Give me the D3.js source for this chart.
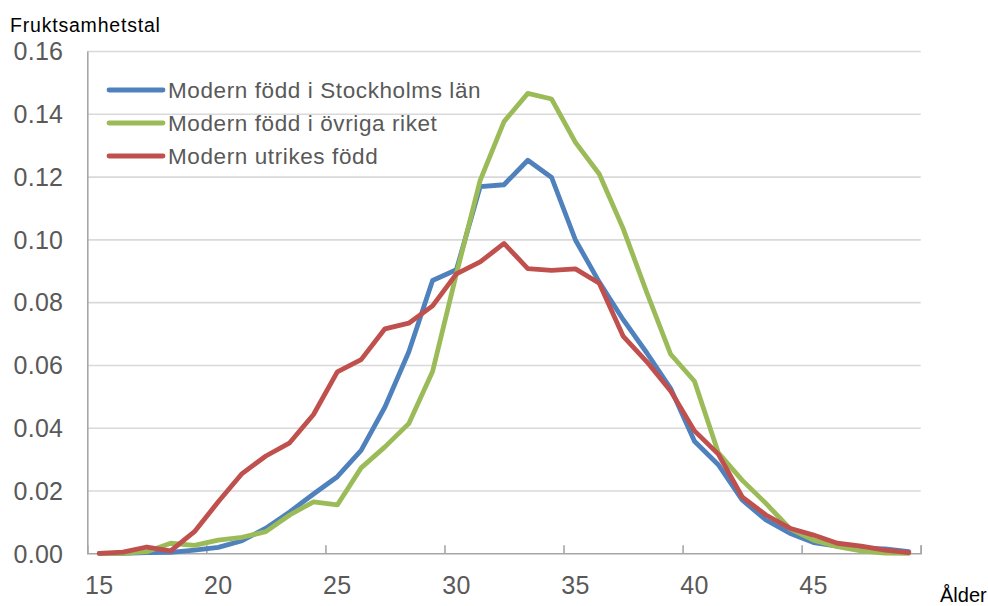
<!DOCTYPE html>
<html>
<head>
<meta charset="utf-8">
<script src="https://cdn.jsdelivr.net/npm/d3@7"></script>
<style>
  html, body { margin: 0; padding: 0; background: #fff; }
  svg { display: block; font-family: "Liberation Sans", Arial, sans-serif; }
</style>
</head>
<body>
<svg id="chart" width="988" height="606"></svg>
<script>
const ages = d3.range(15, 50);
const seriesNames = ["Modern född i Stockholms län", "Modern född i övriga riket", "Modern utrikes född"];
const seriesColors = ["#4f81bd", "#9bbb59", "#c0504d"];
const stockholm = [0, 0, 0.0002, 0.0003, 0.001, 0.0019, 0.004, 0.008, 0.0132, 0.0189,
  0.0244, 0.0328, 0.0466, 0.0641, 0.0869, 0.0903, 0.1168, 0.1174, 0.1252, 0.1197,
  0.0998, 0.0864, 0.0745, 0.0638, 0.0525, 0.0357, 0.0282, 0.017, 0.0106, 0.0064,
  0.0034, 0.0023, 0.0016, 0.0014, 0.0005];
const ovriga = [0, 0, 0.0005, 0.0032, 0.0025, 0.0042, 0.0051, 0.0069, 0.0122, 0.0164,
  0.0154, 0.0272, 0.0339, 0.0413, 0.0579, 0.089, 0.1188, 0.1375, 0.1465, 0.1447,
  0.1309, 0.1208, 0.1035, 0.083, 0.0634, 0.0548, 0.032, 0.0233, 0.0159, 0.0079,
  0.0042, 0.0021, 0.0008, 0.0001, 0];
const utrikes = [0, 0.0004, 0.002, 0.0008, 0.0069, 0.0164, 0.0254, 0.031, 0.0352, 0.0442,
  0.0578, 0.0617, 0.0715, 0.0733, 0.0788, 0.089, 0.0928, 0.0987, 0.0907, 0.0901,
  0.0906, 0.086, 0.0692, 0.061, 0.0517, 0.039, 0.0316, 0.018, 0.0122, 0.008,
  0.0058, 0.0032, 0.0023, 0.001, 0.0002];
const xTickLabels = [15, 20, 25, 30, 35, 40, 45];
const yTicks = [0, 0.02, 0.04, 0.06, 0.08, 0.10, 0.12, 0.14, 0.16];
const yTitle = "Fruktsamhetstal";
const xTitle = "Ålder";

const seriesValues = [stockholm, ovriga, utrikes];

const mLeft = 87.3, mRight = 920.7, mTop = 51, mBottom = 553.3;
const svg = d3.select("#chart");

const x = d3.scaleBand().domain(ages).range([mLeft, mRight]).paddingInner(0).paddingOuter(0);
const xb = d3.scaleLinear().domain([0, ages.length]).range([mLeft, mRight]);
const y = d3.scaleLinear().domain([0, 0.16]).range([mBottom, mTop]);

// gridlines
const grid = svg.append("g").attr("transform", `translate(${mLeft},0)`)
  .call(d3.axisLeft(y).tickValues(yTicks.filter(d => d > 0)).tickSize(-(mRight - mLeft)).tickFormat(""));
grid.select(".domain").remove();
grid.selectAll("line").attr("stroke", "#d9d9d9").attr("stroke-width", 1.6);

// y axis labels
const yAx = svg.append("g").attr("transform", `translate(${mLeft},0)`)
  .call(d3.axisLeft(y).tickValues(yTicks).tickSize(0).tickPadding(24).tickFormat(d3.format(".2f")));
yAx.select(".domain").attr("stroke", "#a6a6a6").attr("stroke-width", 1.6);
yAx.selectAll("text").attr("font-size", 25).attr("fill", "#595959")
  .attr("letter-spacing", 0.3)
  .attr("font-family", "Liberation Sans, Arial, sans-serif").attr("dy", "0.35em");

// x axis boundary ticks
const xTk = svg.append("g").attr("transform", `translate(0,${mBottom})`)
  .call(d3.axisBottom(xb).tickValues(d3.range(5, ages.length + 1, 5)).tickSize(-8).tickFormat(""));
xTk.select(".domain").attr("stroke", "#a6a6a6").attr("stroke-width", 1.6);
xTk.selectAll("line").attr("stroke", "#a6a6a6").attr("stroke-width", 1.6);

// x axis labels
const xLab = svg.append("g").attr("transform", `translate(0,${mBottom})`)
  .call(d3.axisBottom(x).tickValues(xTickLabels).tickSize(0).tickPadding(23));
xLab.select(".domain").remove();
xLab.selectAll("text").attr("font-size", 25).attr("fill", "#595959")
  .attr("letter-spacing", 0.3)
  .attr("font-family", "Liberation Sans, Arial, sans-serif");

// lines
const line = d3.line()
  .x((d, i) => x(ages[i]) + x.bandwidth() / 2)
  .y(d => y(d));
seriesValues.forEach((vals, k) => {
  svg.append("path").datum(vals)
    .attr("d", line)
    .attr("fill", "none")
    .attr("stroke", seriesColors[k])
    .attr("stroke-width", 4.8)
    .attr("stroke-linejoin", "round")
    .attr("stroke-linecap", "round");
});

// legend
const lg = svg.append("g");
seriesNames.forEach((name, k) => {
  const ly = 90 + k * 33;
  lg.append("line").attr("x1", 109).attr("x2", 163).attr("y1", ly).attr("y2", ly)
    .attr("stroke", seriesColors[k]).attr("stroke-width", 4.8).attr("stroke-linecap", "round");
  lg.append("text").attr("x", 168).attr("y", ly).attr("dy", "0.35em")
    .attr("font-size", 22.5).attr("letter-spacing", 0.6).attr("fill", "#595959").text(name);
});

// titles
svg.append("text").attr("x", 10).attr("y", 32).attr("font-size", 19.5)
  .attr("letter-spacing", 0.8).attr("fill", "#000").text(yTitle);
svg.append("text").attr("x", 940).attr("y", 602).attr("font-size", 20).attr("fill", "#000").text(xTitle);
</script>
</body>
</html>
